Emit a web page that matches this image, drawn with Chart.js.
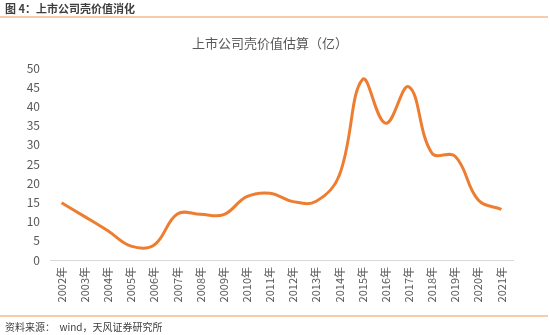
<!DOCTYPE html>
<html>
<head>
<meta charset="utf-8">
<script src="https://cdn.jsdelivr.net/npm/chart.js@4"></script>
<style>
  html, body { margin:0; padding:0; background:#fff; }
  #wrap { position:relative; width:550px; height:335px; overflow:hidden; font-family:"Noto Sans CJK SC","Noto Sans",sans-serif; }
  #hdr { position:absolute; left:5px; top:0px; font-size:11px; font-weight:bold; color:#3f3f3f; line-height:16px; }
  #rule1 { position:absolute; left:0; top:16px; width:548px; height:2px; background:#f8cbad; }
  #ctitle { position:absolute; left:0; width:540px; top:34px; text-align:center; font-size:13px; color:#595959; line-height:18px; }
  #rule2 { position:absolute; left:0; top:315px; width:548px; height:2px; background:#f8cbad; }
  #src { position:absolute; left:5px; top:320px; font-size:10px; color:#404040; line-height:14px; }
  canvas { position:absolute; left:0; top:0; }
</style>
</head>
<body>
<div id="wrap">
  <canvas id="c" width="550" height="335"></canvas>
  <div id="hdr">图 4：上市公司壳价值消化</div>
  <div id="rule1"></div>
  <div id="ctitle">上市公司壳价值估算（亿）</div>
  <div id="rule2"></div>
  <div id="src">资料来源：&nbsp; wind，天风证券研究所</div>
</div>
<script>
const categories = ["2002年","2003年","2004年","2005年","2006年","2007年","2008年","2009年","2010年","2011年","2012年","2013年","2014年","2015年","2016年","2017年","2018年","2019年","2020年","2021年"];
const shellValues = [14.9, 11.3, 7.6, 3.6, 3.9, 12.0, 11.9, 11.8, 16.5, 17.4, 15.2, 15.3, 22.1, 47.0, 35.6, 45.1, 27.8, 27.0, 15.6, 13.2];
const yTicks = [0,5,10,15,20,25,30,35,40,45,50];

const txt = '#595959';
new Chart(document.getElementById('c'), {
  type: 'line',
  data: {
    labels: categories,
    datasets: [{
      data: shellValues,
      borderColor: '#ed7d31',
      borderWidth: 3,
      pointRadius: 0,
      tension: 0.4,
      fill: false
    }]
  },
  options: {
    responsive: false,
    animation: false,
    layout: { padding: { top: 68, right: 37, left: 0, bottom: 0 } },
    plugins: { legend: { display: false }, tooltip: { enabled: false }, title: { display: false } },
    scales: {
      x: {
        offset: true,
        grid: { display: false, drawTicks: false },
        border: { display: true, color: '#d9d9d9', width: 1 },
        ticks: {
          color: txt, font: { family: '"Noto Sans CJK SC"', size: 11 },
          minRotation: 90, maxRotation: 90, padding: 7, autoSkip: false
        },
        afterFit: s => { s.height = 75; }
      },
      y: {
        min: 0, max: 50,
        afterBuildTicks: s => { s.ticks = yTicks.map(v => ({ value: v })); },
        grid: { display: false, drawTicks: false },
        border: { display: false },
        ticks: { color: txt, font: { family: '"Noto Sans CJK SC"', size: 12 }, padding: 10 },
        afterFit: s => { s.width = 50; }
      }
    }
  }
});
</script>
</body>
</html>
